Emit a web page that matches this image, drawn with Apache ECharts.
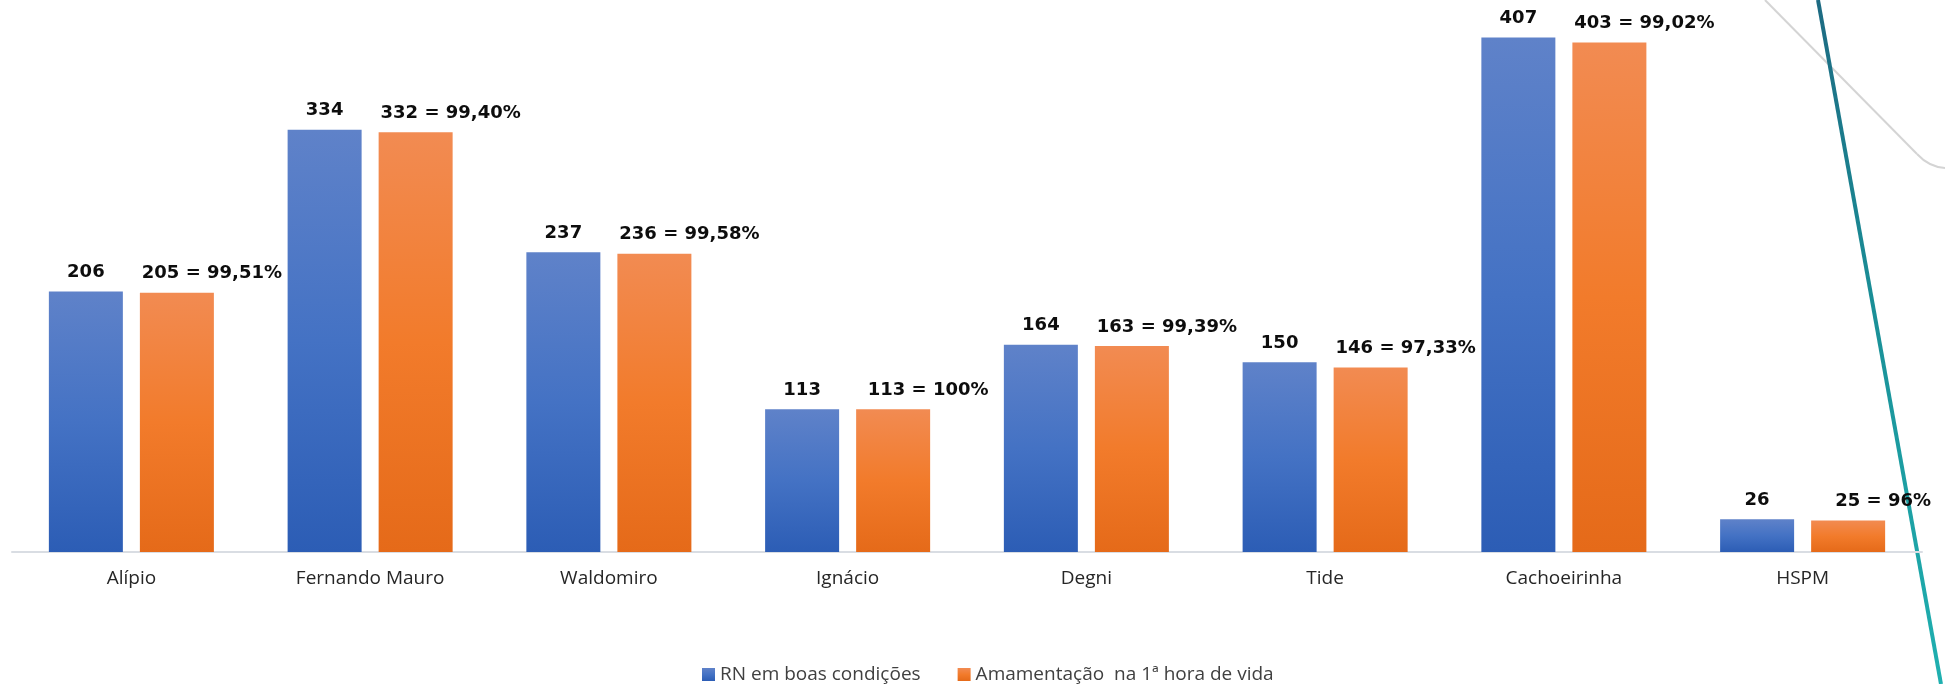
<!DOCTYPE html>
<html>
<head>
<meta charset="utf-8">
<script src="https://cdn.jsdelivr.net/npm/echarts@6/dist/echarts.min.js"></script>
<style>html,body{margin:0;padding:0;background:#fff;}#c{width:1945px;height:684px;}</style>
</head>
<body>
<div id="c"></div>
<script>
const categories = ['Alípio','Fernando Mauro','Waldomiro','Ignácio','Degni','Tide','Cachoeirinha','HSPM'];
const rnValues = [206,334,237,113,164,150,407,26];
const amamValues = [205,332,236,113,163,146,403,25];
const amamPercent = ['99,51%','99,40%','99,58%','100%','99,39%','97,33%','99,02%','96%'];
const seriesNames = ['RN em boas condições','Amamentação  na 1ª hora de vida'];

function vgrad(stops) {
  return { type: 'linear', x: 0, y: 0, x2: 0, y2: 1,
    colorStops: stops.map(s => ({ offset: s[0], color: s[1] })) };
}

const chart = echarts.init(document.getElementById('c'));
const labelStyle = {
  show: true, position: 'top', distance: 10,
  fontFamily: 'DejaVu Sans', fontWeight: 'bold', fontSize: 18, color: '#0d0d0d'
};
chart.setOption({
  animation: false,
  backgroundColor: '#ffffff',
  grid: { left: 12, right: 23, top: 21, bottom: 132, containLabel: false },
  legend: {
    left: 697, top: 660,
    itemWidth: 13, itemHeight: 13, itemGap: 37,
    icon: 'rect',
    textStyle: { fontFamily: 'Open Sans', fontSize: 19, color: '#404040' },
    data: seriesNames
  },
  xAxis: {
    type: 'category', data: categories,
    axisLine: { lineStyle: { color: '#d9dde3', width: 2 } },
    axisTick: { show: false },
    axisLabel: { fontFamily: 'Open Sans', fontSize: 19, color: '#262626', margin: 17 }
  },
  yAxis: { type: 'value', min: 0, max: 420, show: false, splitLine: { show: false } },
  graphic: [
    { type: 'polyline', z: 0, silent: true,
      shape: { points: [[1765,0],[1917,154]] },
      style: { fill: null, stroke: '#d4d4d4', lineWidth: 2 } },
    { type: 'bezierCurve', z: 0, silent: true,
      shape: { x1: 1917, y1: 154, cpx1: 1929, cpy1: 167, x2: 1945, y2: 168 },
      style: { fill: null, stroke: '#d4d4d4', lineWidth: 2 } },
    { type: 'line', z: 0, silent: true,
      shape: { x1: 1818, y1: 0, x2: 1941, y2: 684 },
      style: { lineWidth: 4, stroke: vgrad([[0,'#1d6a82'],[0.45,'#1a8f97'],[1,'#1fb0b0']]) } }
  ],
  series: [
    { name: seriesNames[0], type: 'bar', data: rnValues, barWidth: 74, barGap: '23%',
      itemStyle: { color: vgrad([[0,'#5f82c9'],[0.5,'#4472c4'],[1,'#2c5db5']]) },
      label: Object.assign({}, labelStyle),
      z: 3
    },
    { name: seriesNames[1], type: 'bar', data: amamValues, barWidth: 74,
      itemStyle: { color: vgrad([[0,'#f28b52'],[0.5,'#f27b2b'],[1,'#e56a19']]) },
      label: Object.assign({}, labelStyle, { offset: [35, 0],
        formatter: p => p.value + ' = ' + amamPercent[p.dataIndex] }),
      z: 3
    }
  ]
});
</script>
</body>
</html>
